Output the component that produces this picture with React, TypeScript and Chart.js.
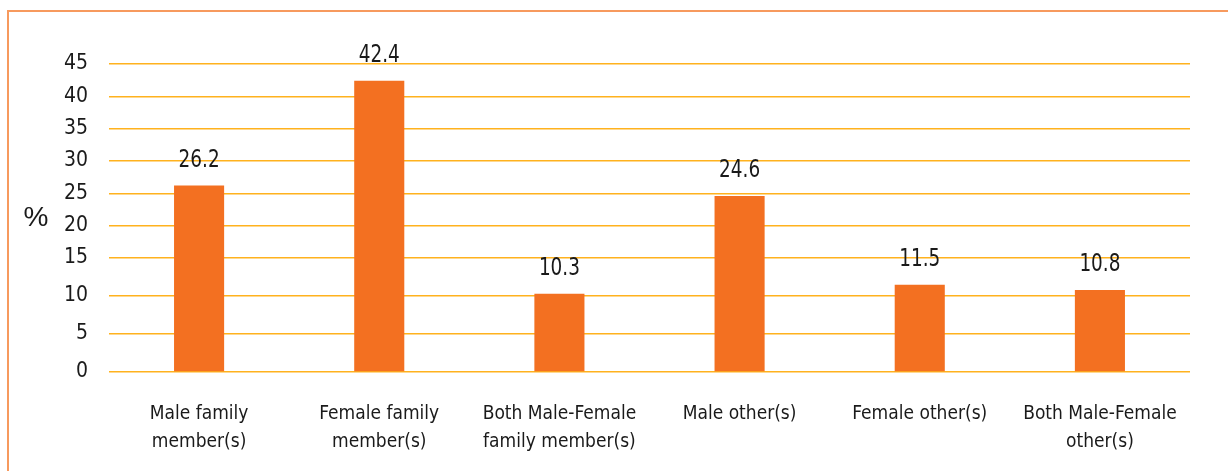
import React, { useEffect, useRef } from "react";
import { Chart, registerables, LinearScale } from "chart.js";

Chart.register(...registerables);

const categories: (string | string[])[] = [
  ["Male family", "member(s)"],
  ["Female family", "member(s)"],
  ["Both Male-Female", "family member(s)"],
  "Male other(s)",
  "Female other(s)",
  ["Both Male-Female", "other(s)"],
];
const values = [26.2, 42.4, 10.3, 24.6, 11.5, 10.8];
const yTicks = [0, 5, 10, 15, 20, 25, 30, 35, 40, 45];
const breakValue = 15;
const breakFraction = 0.37;

const FONT = "'Liberation Sans Narrow', 'DejaVu Sans Condensed', 'Liberation Sans', sans-serif";

class PiecewiseScale extends LinearScale {
  static id = "piecewise";
  static defaults = LinearScale.defaults;
  toDecimal(v: number) {
    const min = this.min as number;
    const max = this.max as number;
    if (v <= breakValue) return ((v - min) / (breakValue - min)) * breakFraction;
    return breakFraction + ((v - breakValue) / (max - breakValue)) * (1 - breakFraction);
  }
  getPixelForValue(value: number) {
    if (value === null || value === undefined || isNaN(value)) return NaN;
    return this.getPixelForDecimal(this.toDecimal(value));
  }
  getValueForPixel(pixel: number) {
    const d = this.getDecimalForPixel(pixel);
    const min = this.min as number;
    const max = this.max as number;
    if (d <= breakFraction) return min + (d / breakFraction) * (breakValue - min);
    return breakValue + ((d - breakFraction) / (1 - breakFraction)) * (max - breakValue);
  }
}
Chart.register(PiecewiseScale as any);

const overlayPlugin = {
  id: "overlay",
  afterDatasetsDraw(chart: any) {
    const ctx = chart.ctx;
    const meta = chart.getDatasetMeta(0);
    ctx.save();
    ctx.fillStyle = "#1a1a1a";
    ctx.font = `25px ${FONT}`;
    ctx.textAlign = "center";
    ctx.textBaseline = "alphabetic";
    const sx = 0.82;
    meta.data.forEach((bar: any, i: number) => {
      ctx.save();
      ctx.translate(bar.x, bar.y - 19);
      ctx.scale(sx, 1);
      ctx.fillText(String(values[i]), 0, 0);
      ctx.restore();
    });
    const area = chart.chartArea;
    ctx.font = `28px 'Liberation Sans', sans-serif`;
    ctx.textBaseline = "middle";
    ctx.fillText("%", 36, (area.top + area.bottom) / 2);
    ctx.restore();
  },
};

export default function App() {
  const ref = useRef<HTMLCanvasElement>(null);
  useEffect(() => {
    const chart = new Chart(ref.current!, {
      type: "bar",
      data: {
        labels: categories,
        datasets: [
          {
            data: values,
            backgroundColor: "#F37021",
            barPercentage: 0.278,
            categoryPercentage: 1,
          },
        ],
      },
      options: {
        animation: false,
        responsive: false,
        layout: { padding: { left: 0, right: 38, top: 64, bottom: 0 } },
        plugins: { legend: { display: false }, tooltip: { enabled: false } },
        scales: {
          x: {
            grid: { display: false },
            border: { display: false },
            ticks: {
              color: "#1a1a1a",
              font: { family: FONT, size: 19, lineHeight: 1.47 },
              padding: 20,
              maxRotation: 0,
              autoSkip: false,
            },
            afterFit: (s: any) => {
              s.height = 99;
            },
          },
          y: {
            type: "piecewise" as any,
            min: 0,
            max: 45,
            afterBuildTicks: (s: any) => {
              s.ticks = yTicks.map((v) => ({ value: v }));
            },
            grid: { color: "#FFB21E", lineWidth: 1.5, drawTicks: false },
            border: { display: false },
            ticks: {
              color: "#1a1a1a",
              font: { family: FONT, size: 21 },
              padding: 21,
            },
            afterFit: (s: any) => {
              s.width = 109;
            },
          },
        },
      },
      plugins: [overlayPlugin],
    });
    return () => chart.destroy();
  }, []);
  return (
    <div style={{ position: "fixed", left: 0, top: 0, width: 1228, height: 471, background: "#fff" }}>
      <div
        style={{
          position: "absolute",
          left: 7,
          top: 10,
          right: 0,
          bottom: 0,
          borderTop: "2px solid #F79A5E",
          borderLeft: "2px solid #F79A5E",
        }}
      />
      <canvas ref={ref} width={1228} height={471} style={{ position: "absolute", left: 0, top: 0 }} />
    </div>
  );
}
